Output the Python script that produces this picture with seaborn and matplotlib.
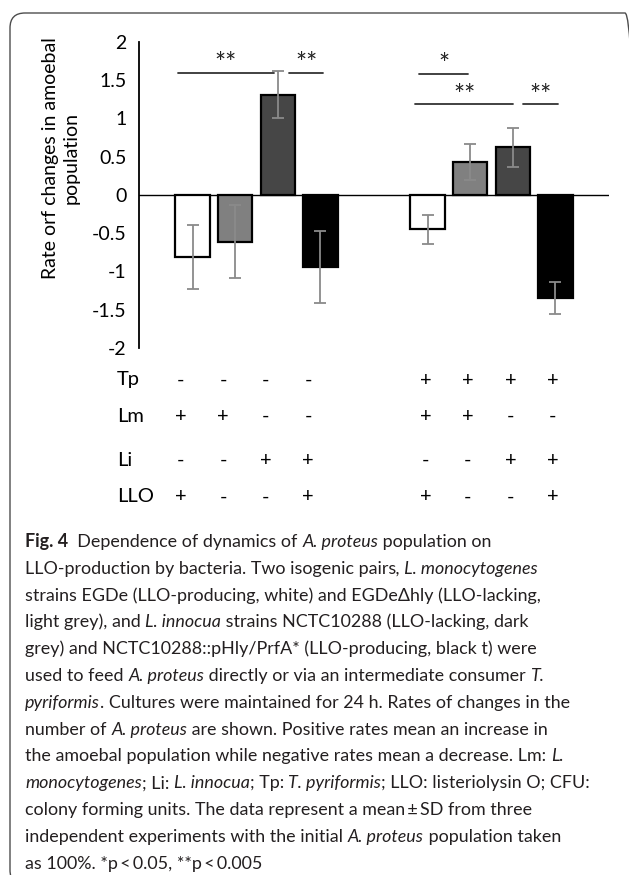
import re
import numpy as np
import pandas as pd
import matplotlib
matplotlib.use("Agg")
import matplotlib.pyplot as plt
import seaborn as sns
from matplotlib.patches import FancyBboxPatch
from matplotlib.transforms import IdentityTransform, blended_transform_factory

# --- data ---
groups = ["Direct", "Via Tp"]
strains = ["EGDe", "EGDe\u0394hly", "NCTC10288", "NCTC10288::pHly/PrfA*"]
rate_direct = [-0.81, -0.61, 1.31, -0.94]
rate_tp = [-0.45, 0.43, 0.62, -1.35]
sd_direct = [0.42, 0.48, 0.31, 0.47]
sd_tp = [0.19, 0.23, 0.25, 0.21]

row_names = ["Tp", "Lm", "Li", "LLO"]
tp_signs = ["-", "-", "-", "-", "+", "+", "+", "+"]
lm_signs = ["+", "+", "-", "-", "+", "+", "-", "-"]
li_signs = ["-", "-", "+", "+", "-", "-", "+", "+"]
llo_signs = ["+", "-", "-", "+", "+", "-", "-", "+"]

# significance bars: (left bar, right bar, height, label)
sig_pairs = [(0, 2, 1.587, "**"), (2, 3, 1.587, "**"),
             (4, 5, 1.574, "*"), (4, 6, 1.182, "**"), (6, 7, 1.182, "**")]
# how far each line end sits from its bar centre, in bar slots
sig_ends = [(-0.35, -0.1), (0.26, 0.07), (-0.2, -0.05), (-0.3, 0.01), (0.25, 0.06)]

caption = [
    "#Fig. 4#  Dependence of dynamics of |A. proteus| population on",
    "LLO-production by bacteria. Two isogenic pairs|, L. monocytogenes|",
    "strains EGDe (LLO-producing, white) and EGDe\u0394hly (LLO-lacking,",
    "light grey), and |L. innocua| strains NCTC10288 (LLO-lacking, dark",
    "grey) and NCTC10288::pHly/PrfA* (LLO-producing, black t) were",
    "used to feed |A. proteus| directly or via an intermediate consumer |T.|",
    "|pyriformis|. Cultures were maintained for 24 h. Rates of changes in the",
    "number of |A. proteus| are shown. Positive rates mean an increase in",
    "the amoebal population while negative rates mean a decrease. Lm: |L.|",
    "|monocytogenes|; Li: |L. innocua|; Tp: |T. pyriformis|; LLO: listeriolysin O; CFU:",
    "colony forming units. The data represent a mean\u2009\u00b1\u2009SD from three",
    "independent experiments with the initial |A. proteus| population taken",
    "as 100%. *p\u2009<\u20090.05, **p\u2009<\u20090.005",
]

# --- style ---
sns.set_style("white")
plt.rcParams["font.family"] = ["Lato", "DejaVu Sans"]
plt.rcParams["axes.unicode_minus"] = False
bar_colors = ["white", "#808080", "#464646", "black"]
text_color = "#231f20"

W, H = 629, 875
fig = plt.figure(figsize=(W / 100, H / 100), dpi=100)
ax = fig.add_axes([139 / W, (H - 348) / H, 470 / W, 306.3 / H])

df = pd.DataFrame({
    "group": np.repeat(groups, len(strains)),
    "strain": strains * len(groups),
    "rate": rate_direct + rate_tp,
    "sd": sd_direct + sd_tp,
})

sns.barplot(data=df, x="group", y="rate", hue="strain", order=groups,
            hue_order=strains, palette=dict(zip(strains, bar_colors)),
            saturation=1, width=0.724, gap=0.19, edgecolor="black",
            linewidth=1.6, errorbar=None, legend=False, ax=ax, zorder=2)

bars = sorted(ax.patches, key=lambda p: p.get_x())
centers = np.array([p.get_x() + p.get_width() / 2 for p in bars])
ax.errorbar(centers, df["rate"], yerr=df["sd"], fmt="none", ecolor="#8a8a8a",
            elinewidth=1.3, capsize=4, capthick=1.3, zorder=3)

ax.axhline(0, color="black", lw=1.0, zorder=1)
ax.set_xlim(-0.5, 1.5)
ax.set_ylim(-2, 2)
yt = np.arange(-2, 2.01, 0.5)
ax.set_yticks(yt)
ax.set_yticklabels([f"{v:g}" for v in yt])
ax.set_xticks([])
ax.set_xlabel("")
ax.set_ylabel("")
ax.tick_params(axis="y", length=0, pad=9, labelsize=14, labelcolor="black")
for s in ["top", "right", "bottom"]:
    ax.spines[s].set_visible(False)
ax.spines["left"].set_color("black")
ax.spines["left"].set_linewidth(1.3)

# significance lines
slot = centers[1] - centers[0]
for (i, j, y, lab), (lo, hi) in zip(sig_pairs, sig_ends):
    x0, x1 = centers[i] + lo * slot, centers[j] + hi * slot
    ax.plot([x0, x1], [y, y], color="#333333", lw=1.3, zorder=4)
    ax.annotate(lab, xy=((x0 + x1) / 2, y), xytext=(0, -3), textcoords="offset points",
                ha="center", va="bottom", fontsize=19, color="#222222")

# y label
px = IdentityTransform()
fig.text(61, H - 158.5, "Rate orf changes in amoebal\npopulation", rotation=90,
         ha="center", va="center", multialignment="center", fontsize=14,
         linespacing=1.3, color="black", transform=px)

# condition table below the axis
tr = blended_transform_factory(ax.transData, px)
row_y = [380, 416, 460, 497]
shift = np.where(np.arange(len(centers)) < 4, -0.052, -0.01)
for name, signs, y in zip(row_names, [tp_signs, lm_signs, li_signs, llo_signs], row_y):
    fig.text(117, H - y, name, ha="left", va="center", fontsize=14.5, color="black",
             transform=px)
    for cx, dx, s in zip(centers, shift, signs):
        ax.text(cx + dx, H - y, s, ha="center", va="center", fontsize=14.5,
                color="black", transform=tr, clip_on=False)

# caption with bold / italic runs
renderer = fig.canvas.get_renderer()


def run_width(s, **kw):
    t1 = fig.text(0, 0, s + "x", **kw)
    t2 = fig.text(0, 0, "x", **kw)
    w = t1.get_window_extent(renderer).width - t2.get_window_extent(renderer).width
    t1.remove()
    t2.remove()
    return w


cap_size = 12.9
for k, line in enumerate(caption):
    x = 25
    y = H - (547 + 26.8 * k)
    bold = italic = False
    for part in re.split(r"([#|])", line):
        if part == "#":
            bold = not bold
            continue
        if part == "|":
            italic = not italic
            continue
        if not part:
            continue
        kw = dict(fontsize=cap_size, fontweight="bold" if bold else "normal",
                  fontstyle="italic" if italic else "normal", color=text_color)
        fig.text(x, y, part, ha="left", va="baseline", transform=px, **kw)
        x += run_width(part, **kw)

# rounded frame around the figure panel
frame = FancyBboxPatch((10, -10), 630, 872, boxstyle="round,pad=0,rounding_size=15",
                       transform=px, fill=False, ec="#4d4d4d", lw=1.0)
fig.add_artist(frame)

fig.savefig("out.png", dpi=100)
